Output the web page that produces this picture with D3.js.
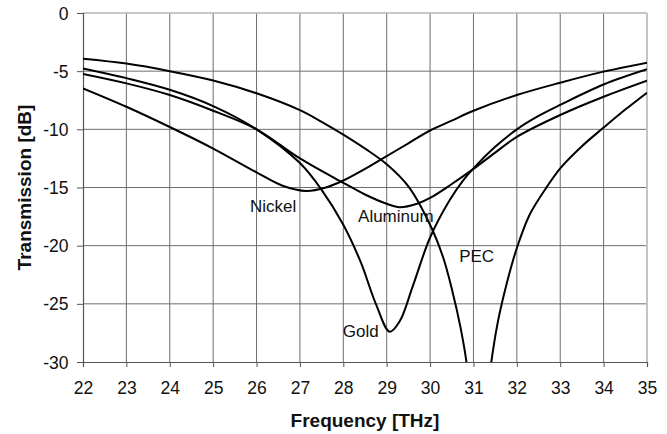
<!DOCTYPE html>
<html>
<head>
<meta charset="utf-8">
<script src="https://cdn.jsdelivr.net/npm/d3@7/dist/d3.min.js"></script>
<style>
	html, body { margin: 0; padding: 0; background: #fff; }
	svg { display: block; font-family: 'Liberation Sans', Arial, sans-serif; }
	.tick-label { font-size: 17.5px; fill: #111; }
	.axis-title { font-size: 19px; font-weight: bold; fill: #111; }
	.curve-label { font-size: 17px; fill: #111; }
</style>
</head>
<body>
<div id="chart"></div>
<script>
(function () {
	'use strict';

	// values, [frequency THz, transmission dB]
	var pec = [
		[22, -3.93], [23, -4.35], [24, -5.0], [25, -5.8], [26, -6.9], [27, -8.35],
		[27.5, -9.35], [28, -10.45], [28.5, -11.65], [29, -13.0], [29.5, -14.9], [30, -18.2],
		[30.3, -21.0], [30.5, -23.7], [30.7, -27.0], [30.85, -30.3], [31.1, -40],
		[31.4, -30.3], [31.57, -26.4], [31.77, -23.2], [32, -20.2], [32.3, -17.3],
		[32.7, -14.9], [33, -13.35], [33.5, -11.45], [34, -9.85], [34.5, -8.3], [35, -6.85]
	];

	var gold = [
		[22, -4.76], [23, -5.6], [24, -6.6], [25, -8.0], [26, -10.0], [27, -12.9],
		[27.5, -15.2], [28, -18.2], [28.4, -21.4], [28.75, -25.0], [29.07, -27.4],
		[29.3, -26.5], [29.6, -23.5], [30, -19.3], [30.45, -16.1], [30.75, -14.45],
		[31, -13.35], [31.5, -11.5], [32, -10.0], [32.5, -8.85], [33, -7.9], [34, -6.15], [35, -4.84]
	];

	var aluminum = [
		[22, -5.24], [23, -6.05], [24, -7.05], [25, -8.4], [26, -10.0], [27, -12.5],
		[28, -14.6], [28.5, -15.6], [29, -16.4], [29.3, -16.7], [29.7, -16.4], [30, -15.9],
		[30.5, -14.7], [31, -13.4], [31.5, -12.0], [32, -10.65], [33, -8.77], [34, -7.2], [35, -5.82]
	];

	var nickel = [
		[22, -6.48], [23, -8.06], [24, -9.8], [25, -11.65], [26, -13.7], [26.6, -14.85],
		[27.15, -15.3], [27.6, -15.0], [28, -14.4], [28.5, -13.4], [29, -12.3], [29.5, -11.2],
		[30, -10.1], [30.5, -9.25], [31, -8.4], [32, -7.05], [33, -5.99], [34, -5.04], [35, -4.27]
	];

	var freqTicks = [22, 23, 24, 25, 26, 27, 28, 29, 30, 31, 32, 33, 34, 35];
	var dbTicks = [0, -5, -10, -15, -20, -25, -30];

	// curve labels, anchored in data coordinates
	var labels = [
		{ text: 'Nickel', f: 25.85, db: -17.1 },
		{ text: 'Aluminum', f: 28.34, db: -17.97 },
		{ text: 'Gold', f: 27.99, db: -27.86 },
		{ text: 'PEC', f: 30.67, db: -21.4 }
	];

	var width = 667,
		height = 434,
		margin = { top: 13, right: 20, bottom: 72, left: 83 };

	var x = d3.scaleLinear()
		.domain([22, 35])
		.range([margin.left, width - margin.right]);

	var y = d3.scaleLinear()
		.domain([-30, 0])
		.range([height - margin.bottom, margin.top]);

	var svg = d3.select('#chart')
		.append('svg')
		.attr('width', width)
		.attr('height', height);

	svg.append('defs')
		.append('clipPath')
		.attr('id', 'plot-clip')
		.append('rect')
		.attr('x', x(22))
		.attr('y', y(0))
		.attr('width', x(35) - x(22))
		.attr('height', y(-30) - y(0));

	// grid
	var grid = svg.append('g').attr('class', 'grid');

	grid.selectAll('.vgrid')
		.data(freqTicks.slice(1, -1))
		.enter()
		.append('line')
		.attr('x1', function (d) { return x(d); })
		.attr('x2', function (d) { return x(d); })
		.attr('y1', y(0))
		.attr('y2', y(-30))
		.style('stroke', '#6e6e6e')
		.style('stroke-width', 1);

	grid.selectAll('.hgrid')
		.data(dbTicks.slice(1, -1))
		.enter()
		.append('line')
		.attr('x1', x(22))
		.attr('x2', x(35))
		.attr('y1', function (d) { return y(d); })
		.attr('y2', function (d) { return y(d); })
		.style('stroke', '#6e6e6e')
		.style('stroke-width', 1);

	// light frame on top and right
	grid.append('line')
		.attr('x1', x(22)).attr('x2', x(35))
		.attr('y1', y(0)).attr('y2', y(0))
		.style('stroke', '#b4b4b4')
		.style('stroke-width', 1.5);

	grid.append('line')
		.attr('x1', x(35)).attr('x2', x(35))
		.attr('y1', y(0)).attr('y2', y(-30))
		.style('stroke', '#c4c4c4')
		.style('stroke-width', 2);

	// axes, plain hyphen for negatives as in the figure
	var plain = function (d) { return String(d); };

	var xAxis = svg.append('g')
		.attr('transform', 'translate(0,' + y(-30) + ')')
		.call(d3.axisBottom(x).tickValues(freqTicks).tickSize(5).tickFormat(plain));

	var yAxis = svg.append('g')
		.attr('transform', 'translate(' + x(22) + ',0)')
		.call(d3.axisLeft(y).tickValues(dbTicks).tickSize(6).tickFormat(plain));

	[xAxis, yAxis].forEach(function (axis) {
		axis.attr('font-family', null).attr('font-size', null);
		axis.select('.domain').style('stroke', '#555').style('stroke-width', 1.2);
		axis.selectAll('.tick line').style('stroke', '#555');
		axis.selectAll('.tick text').attr('class', 'tick-label');
	});

	xAxis.selectAll('.tick text')
		.attr('y', 32)
		.attr('dy', null);

	yAxis.selectAll('.tick text')
		.attr('x', -14.5)
		.attr('dy', '0.35em');

	// curves
	var line = d3.line()
		.curve(d3.curveCatmullRom.alpha(0.5))
		.x(function (d) { return x(d[0]); })
		.y(function (d) { return y(d[1]); });

	svg.append('g')
		.attr('clip-path', 'url(#plot-clip)')
		.selectAll('path')
		.data([pec, gold, aluminum, nickel])
		.enter()
		.append('path')
		.attr('d', line)
		.style('fill', 'none')
		.style('stroke', '#000')
		.style('stroke-width', 2);

	svg.selectAll('.curve-label')
		.data(labels)
		.enter()
		.append('text')
		.attr('class', 'curve-label')
		.attr('x', function (d) { return x(d.f); })
		.attr('y', function (d) { return y(d.db); })
		.text(function (d) { return d.text; });

	// titles
	svg.append('text')
		.attr('class', 'axis-title')
		.attr('text-anchor', 'middle')
		.attr('x', (x(22) + x(35)) / 2)
		.attr('y', 427)
		.text('Frequency [THz]');

	svg.append('text')
		.attr('class', 'axis-title')
		.attr('text-anchor', 'middle')
		.attr('transform', 'translate(31,' + (y(0) + y(-30)) / 2 + ') rotate(-90)')
		.text('Transmission [dB]');
}());
</script>
</body>
</html>
